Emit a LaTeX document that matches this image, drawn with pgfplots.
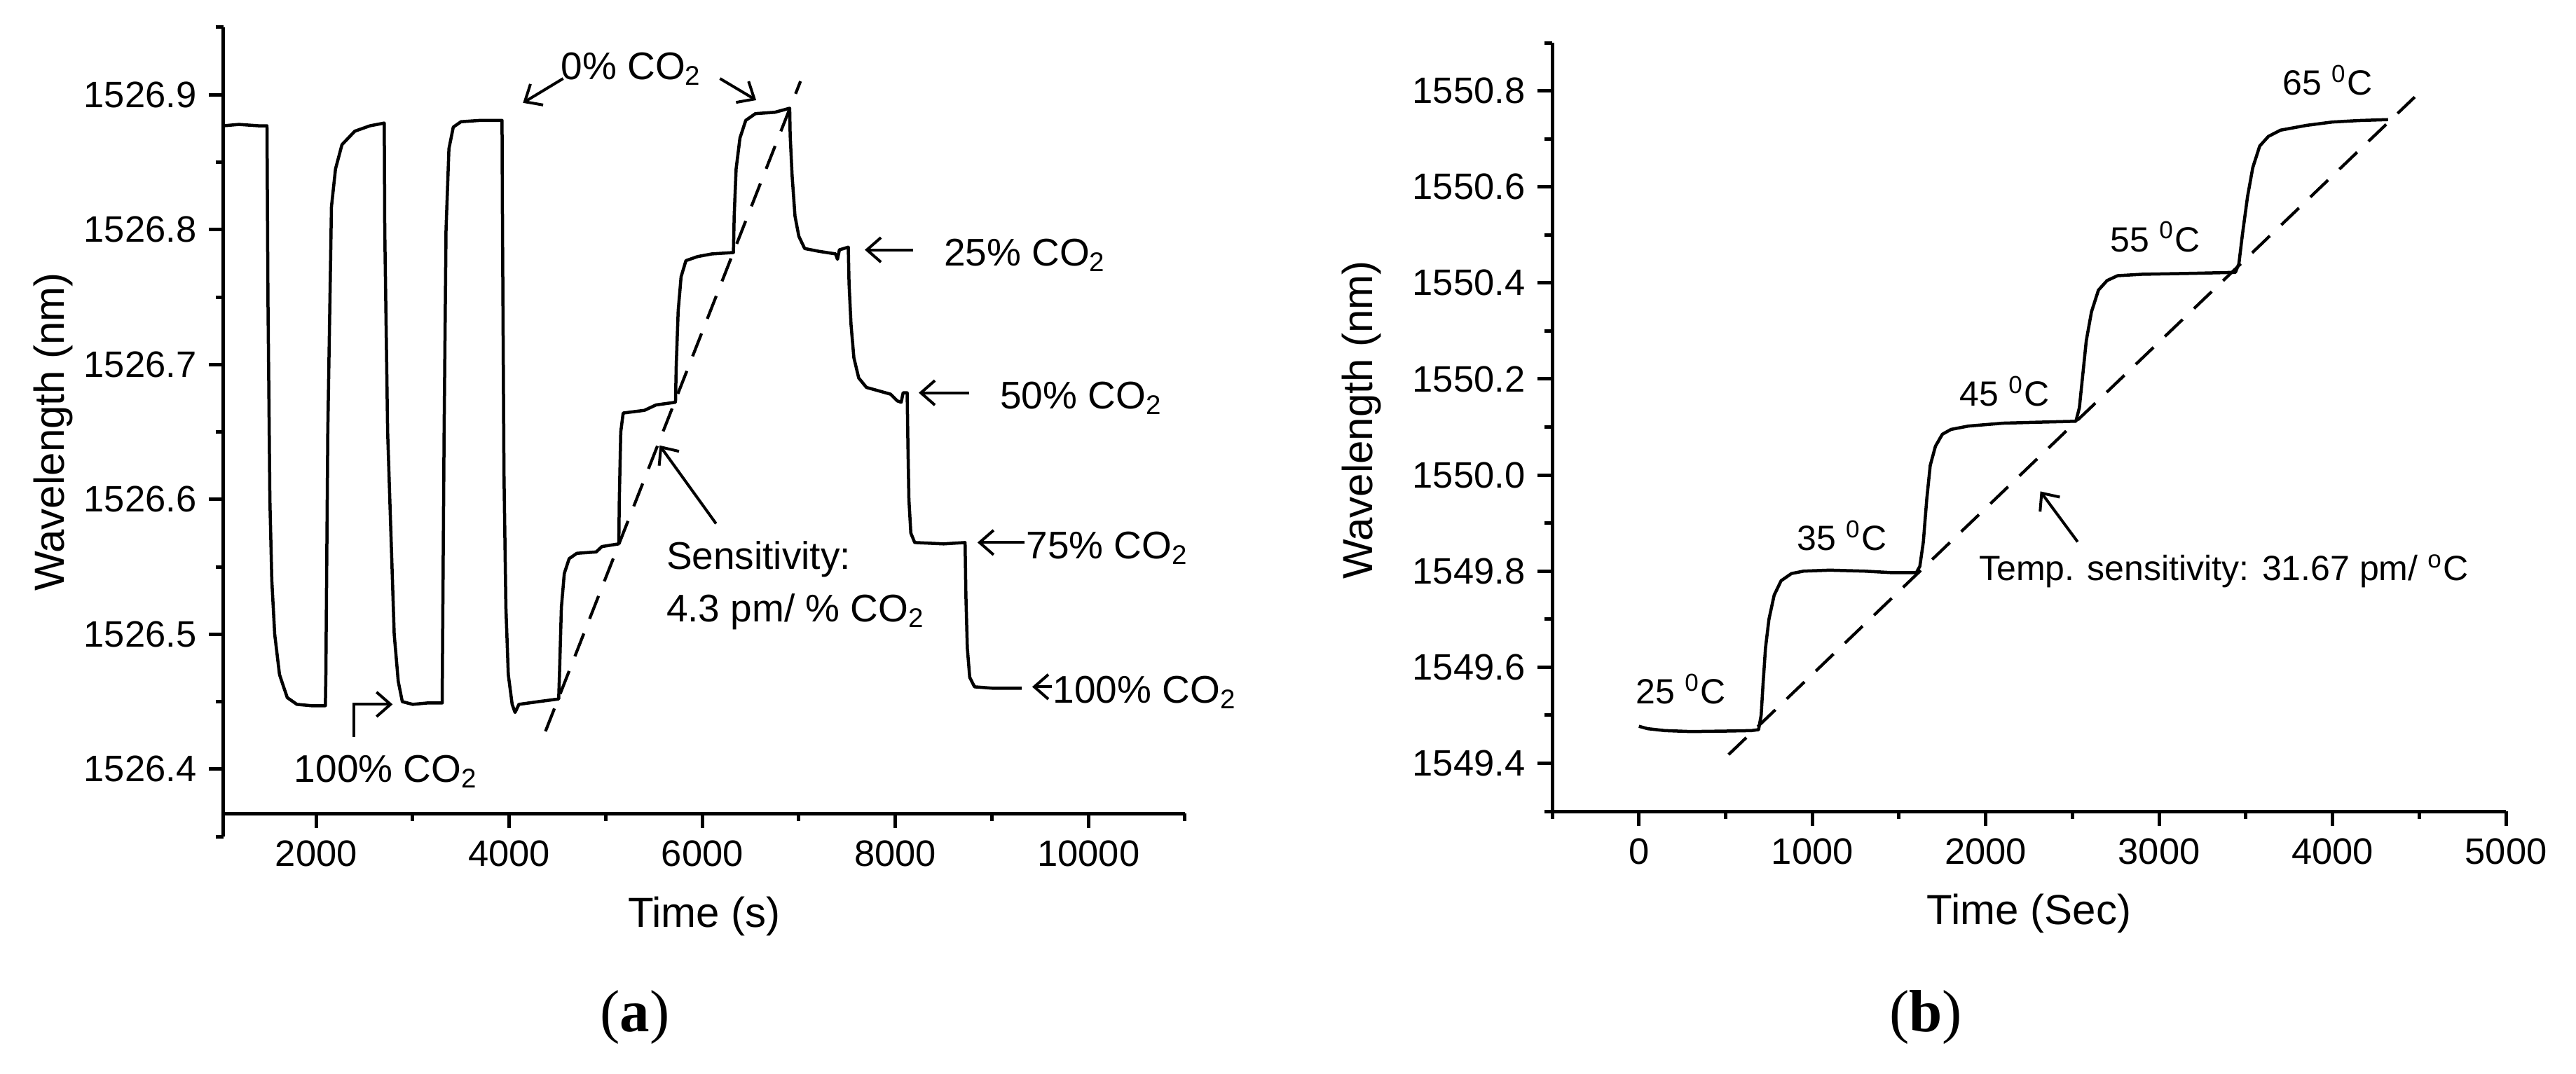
\documentclass[border=0pt]{standalone}
\usepackage{fontspec}
\setmainfont{Liberation Sans}
\newfontfamily\seriffont{Liberation Serif}
\usepackage{pgfplots}
\pgfplotsset{compat=1.18}
\usetikzlibrary{arrows.meta}

\pgfplotsset{
  originstyle/.style={
    scale only axis,
    axis x line*=bottom, axis y line*=left,
    axis line style={line width=1pt},
    every tick/.style={line width=1pt, black},
    tick align=outside,
    major tick length=4.2pt, minor tick length=2.2pt,
    tick label style={font=\fontsize{10.5}{12}\selectfont},
    /pgf/number format/assume math mode=true,
    /pgf/number format/1000 sep={},
    scaled x ticks=false, scaled y ticks=false,
    label style={font=\fontsize{12}{14}\selectfont},
    clip=false,
  },
  dataline/.style={black, line width=0.9pt, no marks, line join=round},
  fitline/.style={black, line width=0.85pt, dash pattern=on 7pt off 4.5pt},
}
\tikzset{arr/.style={line width=0.8pt, -{Straight Barb[length=4pt,width=7pt]}}}

\begin{document}
\begin{tikzpicture}
\path (0,0) rectangle (735.2pt,306.4pt);

% ---------------- (a) ----------------
\begin{axis}[originstyle,
  at={(63.8pt,67.6pt)}, anchor=south west,
  width=274.4pt, height=231pt,
  xmin=1040, xmax=11000, ymin=1526.35, ymax=1526.95,
  axis x line shift=-6.6pt,
  xtick={2000,4000,6000,8000,10000},
  minor xtick={3000,5000,7000,9000,11000},
  ytick={1526.4,1526.5,1526.6,1526.7,1526.8,1526.9},
  minor ytick={1526.35,1526.45,1526.55,1526.65,1526.75,1526.85,1526.95},
  yticklabel style={/pgf/number format/fixed, /pgf/number format/precision=1, /pgf/number format/fixed zerofill},
  xlabel={Time (s)}, ylabel={Wavelength (nm)},
  xlabel style={at={(axis description cs:0.5,-0.099)}, anchor=center},
  ylabel style={at={(axis description cs:-0.177,0.5)}, anchor=center},
]
\addplot[dataline] coordinates {
(1040,1526.877)(1200,1526.878)(1400,1526.877)(1490,1526.877)
(1500,1526.75)(1520,1526.60)(1540,1526.54)(1570,1526.50)(1620,1526.47)(1700,1526.453)(1800,1526.448)(1950,1526.447)(2095,1526.447)
(2100,1526.47)(2120,1526.65)(2158,1526.817)(2200,1526.845)(2267,1526.863)(2400,1526.873)(2558,1526.877)(2705,1526.879)
(2710,1526.80)(2740,1526.65)(2767,1526.59)(2808,1526.50)(2850,1526.465)(2892,1526.450)(3000,1526.448)(3150,1526.449)(3305,1526.449)
(3310,1526.50)(3325,1526.65)(3345,1526.80)(3375,1526.86)(3420,1526.876)(3500,1526.880)(3700,1526.881)(3925,1526.881)
(3930,1526.80)(3945,1526.62)(3965,1526.52)(3990,1526.47)(4030,1526.448)(4060,1526.442)(4100,1526.448)(4300,1526.450)(4512,1526.452)
(4520,1526.47)(4540,1526.52)(4570,1526.545)(4620,1526.556)(4700,1526.560)(4900,1526.561)(4960,1526.565)(5135,1526.567)
(5140,1526.60)(5155,1526.65)(5180,1526.664)(5400,1526.666)(5520,1526.670)(5722,1526.672)
(5730,1526.70)(5750,1526.74)(5780,1526.765)(5830,1526.777)(5950,1526.780)(6100,1526.782)(6322,1526.783)
(6330,1526.81)(6350,1526.845)(6390,1526.868)(6450,1526.881)(6550,1526.886)(6750,1526.887)(6905,1526.890)
(6910,1526.87)(6930,1526.84)(6960,1526.81)(7000,1526.795)(7060,1526.786)(7200,1526.784)(7380,1526.782)(7400,1526.778)(7420,1526.785)(7512,1526.787)
(7520,1526.76)(7540,1526.73)(7570,1526.705)(7620,1526.69)(7700,1526.683)(7850,1526.680)(7950,1526.678)(8020,1526.673)(8060,1526.672)(8080,1526.679)(8122,1526.679)
(8130,1526.64)(8140,1526.60)(8160,1526.575)(8200,1526.568)(8500,1526.567)(8722,1526.568)
(8730,1526.53)(8745,1526.49)(8770,1526.468)(8820,1526.461)(9000,1526.460)(9310,1526.460)
};
\addplot[fitline] coordinates {(4375,1526.428)(7017,1526.910)};

\node[font=\fontsize{11}{13}\selectfont] at (axis cs:5267,1526.919) {0\% CO\textsubscript{2}};
\draw[arr] (axis cs:4558,1526.912) -- (axis cs:4142,1526.894);
\draw[arr] (axis cs:6183,1526.912) -- (axis cs:6558,1526.896);
\node[font=\fontsize{11}{13}\selectfont, anchor=west] at (axis cs:8375,1526.781) {25\% CO\textsubscript{2}};
\draw[arr] (axis cs:8183,1526.785) -- (axis cs:7683,1526.785);
\node[font=\fontsize{11}{13}\selectfont, anchor=west] at (axis cs:8958,1526.675) {50\% CO\textsubscript{2}};
\draw[arr] (axis cs:8767,1526.679) -- (axis cs:8242,1526.679);
\node[font=\fontsize{11}{13}\selectfont, anchor=west, inner sep=0pt] at (axis cs:9350,1526.564) {75\% CO\textsubscript{2}};
\draw[arr] (axis cs:9340,1526.568) -- (axis cs:8850,1526.568);
\node[font=\fontsize{11}{13}\selectfont, anchor=west, inner sep=0pt] at (axis cs:9625,1526.457) {100\% CO\textsubscript{2}};
\draw[arr] (axis cs:9620,1526.461) -- (axis cs:9417,1526.461);
\node[font=\fontsize{11}{13}\selectfont] at (axis cs:2725,1526.398) {100\% CO\textsubscript{2}};
\draw[arr] (axis cs:2392,1526.424) -- (axis cs:2392,1526.448) -- (axis cs:2792,1526.448);
\node[font=\fontsize{11}{13}\selectfont, anchor=west, align=left] at (axis cs:5500,1526.536) {Sensitivity:\\[2pt]4.3 pm/ \% CO\textsubscript{2}};
\draw[arr] (axis cs:6142,1526.582) -- (axis cs:5558,1526.640);
\end{axis}

% ---------------- (b) ----------------
\begin{axis}[originstyle,
  at={(443pt,74.8pt)}, anchor=south west,
  width=272.2pt, height=219.4pt,
  xmin=-500, xmax=5000, ymin=1549.3, ymax=1550.9,
  xtick={0,1000,2000,3000,4000,5000},
  minor xtick={-500,500,1500,2500,3500,4500},
  ytick={1549.4,1549.6,1549.8,1550.0,1550.2,1550.4,1550.6,1550.8},
  minor ytick={1549.3,1549.5,1549.7,1549.9,1550.1,1550.3,1550.5,1550.7,1550.9},
  yticklabel style={/pgf/number format/fixed, /pgf/number format/precision=1, /pgf/number format/fixed zerofill},
  xlabel={Time (Sec)}, ylabel={Wavelength (nm)},
  xlabel style={at={(axis description cs:0.5,-0.133)}, anchor=center},
  ylabel style={at={(axis description cs:-0.2,0.509)}, anchor=center},
]
\addplot[dataline] coordinates {
(0,1549.477)(50,1549.472)(150,1549.468)(300,1549.466)(500,1549.467)(650,1549.468)(690,1549.47)(705,1549.50)(715,1549.56)(730,1549.64)(750,1549.70)(780,1549.75)(820,1549.78)(880,1549.795)(950,1549.80)(1100,1549.802)(1300,1549.800)(1450,1549.797)(1600,1549.797)
(1620,1549.81)(1640,1549.86)(1660,1549.95)(1680,1550.02)(1710,1550.06)(1750,1550.085)(1800,1550.095)(1900,1550.102)(2100,1550.108)(2300,1550.110)(2520,1550.112)
(2540,1550.14)(2560,1550.21)(2580,1550.28)(2610,1550.34)(2650,1550.385)(2700,1550.405)(2760,1550.415)(2900,1550.418)(3200,1550.420)(3440,1550.422)
(3460,1550.44)(3480,1550.50)(3510,1550.58)(3540,1550.64)(3580,1550.685)(3630,1550.705)(3700,1550.718)(3850,1550.728)(4000,1550.735)(4150,1550.738)(4320,1550.740)
};
\addplot[fitline] coordinates {(517,1549.418)(4474,1550.787)};

\node[font=\fontsize{10}{12}\selectfont] at (axis cs:242,1549.554) {25 \textsuperscript{0}C};
\node[font=\fontsize{10}{12}\selectfont] at (axis cs:1171,1549.874) {35 \textsuperscript{0}C};
\node[font=\fontsize{10}{12}\selectfont] at (axis cs:2109,1550.174) {45 \textsuperscript{0}C};
\node[font=\fontsize{10}{12}\selectfont] at (axis cs:2978,1550.496) {55 \textsuperscript{0}C};
\node[font=\fontsize{10}{12}\selectfont] at (axis cs:3971,1550.822) {65 \textsuperscript{0}C};
\node[font=\fontsize{10}{12}\selectfont, anchor=west, inner sep=0pt] at (axis cs:1958,1549.80) {Temp. sensitivity: 31.67 pm/ \textsuperscript{o}C};
\draw[arr] (axis cs:2530,1549.861) -- (axis cs:2315,1549.966);
\end{axis}

\node[font=\seriffont\fontsize{17}{19}\selectfont] at (181.2pt,16pt) {(\textbf{a})};
\node[font=\seriffont\fontsize{17}{19}\selectfont] at (549.6pt,16pt) {(\textbf{b})};
\end{tikzpicture}
\end{document}
